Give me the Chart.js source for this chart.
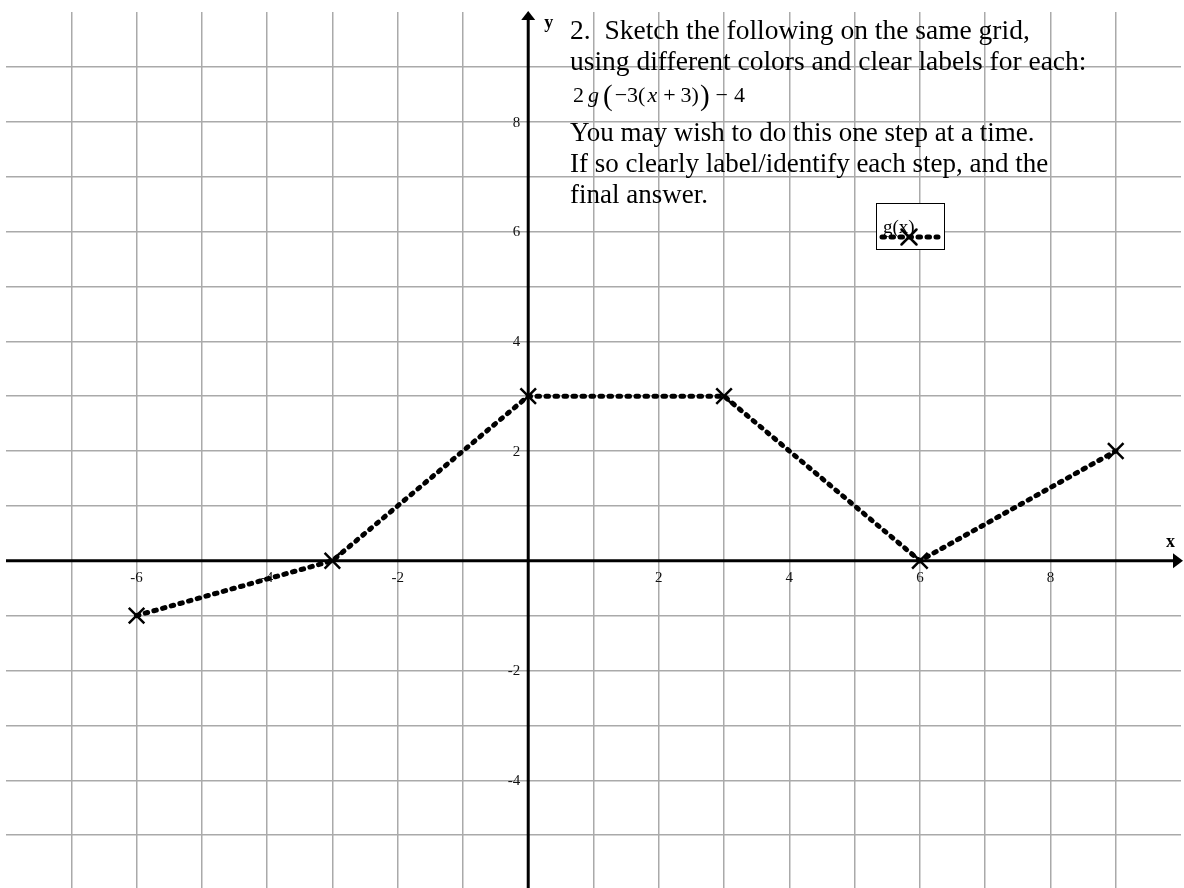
<!DOCTYPE html>
<html>
<head>
<meta charset="utf-8">
<title>g(x)</title>
<script src="https://cdn.jsdelivr.net/npm/chart.js@4.4.1/dist/chart.umd.min.js"></script>
<style>
  html, body { margin: 0; padding: 0; background: #fff; overflow: hidden; }
  #wrap { position: relative; width: 1184px; height: 892px; }
</style>
</head>
<body>
<div id="wrap"><canvas id="graph"></canvas></div>
<script>
// ---- data ----
const xValues = [-6, -3, 0, 3, 6, 9];
const gValues = [-1, 0, 3, 3, 0, 2];
const xRange = [-8, 10];
const yRange = [-6, 10];
const xTickLabels = [-6, -4, -2, 2, 4, 6, 8];
const yTickLabels = [8, 6, 4, 2, -2, -4];
const seriesName = 'g(x)';
const promptBefore = [
  '2.  Sketch the following on the same grid,',
  'using different colors and clear labels for each:'
];
// formula pieces: [text, style]  (n = upright, i = italic, b = big bracket)
const formulaPieces = [
  ['2', 'n'], ['g', 'i'], ['(', 'b'], ['\u22123(', 'n'], ['x', 'i'],
  ['+', 'n'], ['3)', 'n'], [')', 'b'], ['\u2212', 'n'], ['4', 'n']
];
const promptAfter = [
  'You may wish to do this one step at a time.',
  'If so clearly label/identify each step, and the',
  'final answer.'
];

// ---- styling ----
const SERIF = '"Liberation Serif", "Times New Roman", Times, serif';
const GRID = 'rgb(170,170,170)';
const LINE_STYLE = { width: 5, dash: [2.5, 6.5] };

function drawCross(ctx, cx, cy, half, lw) {
  ctx.save();
  ctx.strokeStyle = '#000';
  ctx.lineWidth = lw;
  ctx.beginPath();
  ctx.moveTo(cx - half, cy - half); ctx.lineTo(cx + half, cy + half);
  ctx.moveTo(cx - half, cy + half); ctx.lineTo(cx + half, cy - half);
  ctx.stroke();
  ctx.restore();
}

// axes with arrows, tick numbers and axis names, drawn under the data line
const axesPlugin = {
  id: 'axesPlugin',
  beforeDatasetsDraw(chart) {
    const { ctx, chartArea, scales: { x, y } } = chart;
    const x0 = x.getPixelForValue(0);
    const y0 = y.getPixelForValue(0);
    ctx.save();

    // tick numbers
    ctx.fillStyle = '#111';
    ctx.font = '15px ' + SERIF;
    ctx.textBaseline = 'middle';
    ctx.textAlign = 'center';
    xTickLabels.forEach(v => ctx.fillText(String(v), x.getPixelForValue(v), y0 + 17));
    ctx.textAlign = 'right';
    yTickLabels.forEach(v => ctx.fillText(String(v), x0 - 8, y.getPixelForValue(v) + 1));

    // axis lines
    ctx.strokeStyle = '#000';
    ctx.lineWidth = 3;
    ctx.beginPath();
    ctx.moveTo(chartArea.left, y0);
    ctx.lineTo(chartArea.right - 6, y0);
    ctx.moveTo(x0, chartArea.top + 6);
    ctx.lineTo(x0, chartArea.bottom);
    ctx.stroke();

    // arrow heads
    ctx.fillStyle = '#000';
    ctx.beginPath();
    ctx.moveTo(x0, chartArea.top - 1);
    ctx.lineTo(x0 - 7, chartArea.top + 8);
    ctx.lineTo(x0 + 7, chartArea.top + 8);
    ctx.closePath();
    ctx.fill();
    ctx.beginPath();
    ctx.moveTo(chartArea.right + 2, y0);
    ctx.lineTo(chartArea.right - 8, y0 - 7.5);
    ctx.lineTo(chartArea.right - 8, y0 + 7.5);
    ctx.closePath();
    ctx.fill();

    // axis names
    ctx.font = 'bold 18px ' + SERIF;
    ctx.textAlign = 'left';
    ctx.textBaseline = 'alphabetic';
    ctx.fillText('y', x0 + 16, 28);
    ctx.fillText('x', 1166, y0 - 14);
    ctx.restore();
  }
};

// exercise text and the legend box, drawn on top
const notesPlugin = {
  id: 'notesPlugin',
  afterDatasetsDraw(chart) {
    const { ctx } = chart;
    const left = 570;
    ctx.save();
    ctx.fillStyle = '#000';
    ctx.textAlign = 'left';
    ctx.textBaseline = 'alphabetic';
    ctx.font = '27.5px ' + SERIF;
    const base1 = [39, 70];
    promptBefore.forEach((t, i) => ctx.fillText(t, left, base1[i]));

    // formula 2g(-3(x+3))-4
    let fx = left + 3;
    const fy = 102;
    const gaps = { '2': 4, 'g': 4, '(': 2, '\u22123(': 2, 'x': 6, '+': 5, '3)': 1, ')': 6, '\u2212': 6, '4': 0 };
    formulaPieces.forEach(([t, s]) => {
      if (s === 'i') ctx.font = 'italic 22px ' + SERIF;
      else if (s === 'b') ctx.font = '29px ' + SERIF;
      else ctx.font = '22px ' + SERIF;
      ctx.fillText(t, fx, s === 'b' ? fy + 3 : fy);
      fx += ctx.measureText(t).width + (gaps[t] || 0);
    });

    ctx.font = '27px ' + SERIF;
    const base2 = [141, 172, 203];
    promptAfter.forEach((t, i) => ctx.fillText(t, left, base2[i]));

    // legend
    const bx = 876.5, by = 203.5, bw = 68, bh = 46;
    ctx.fillStyle = '#fff';
    ctx.fillRect(bx, by, bw, bh);
    ctx.strokeStyle = '#000';
    ctx.lineWidth = 1;
    ctx.strokeRect(bx, by, bw, bh);
    ctx.fillStyle = '#000';
    ctx.font = '19px ' + SERIF;
    ctx.fillText(seriesName, 883, 233);
    ctx.strokeStyle = '#000';
    ctx.lineWidth = LINE_STYLE.width;
    ctx.lineCap = 'round';
    ctx.setLineDash(LINE_STYLE.dash);
    ctx.beginPath();
    ctx.moveTo(882, 237);
    ctx.lineTo(938, 237);
    ctx.stroke();
    ctx.setLineDash([]);
    drawCross(ctx, 909, 237, 7.5, 2.5);
    ctx.restore();
  }
};

const gridColor = (range) => (c) =>
  (c.tick && (c.tick.value === range[0] || c.tick.value === range[1])) ? 'rgba(0,0,0,0)' : GRID;

new Chart(document.getElementById('graph'), {
  type: 'line',
  data: {
    datasets: [{
      label: seriesName,
      data: xValues.map((v, i) => ({ x: v, y: gValues[i] })),
      borderColor: '#000',
      borderWidth: LINE_STYLE.width,
      borderDash: LINE_STYLE.dash,
      borderCapStyle: 'round',
      fill: false,
      tension: 0,
      pointStyle: 'crossRot',
      pointRadius: 11,
      pointBorderWidth: 2.5,
      pointBorderColor: '#000',
      pointBackgroundColor: '#000'
    }]
  },
  options: {
    responsive: true,
    maintainAspectRatio: false,
    animation: false,
    events: [],
    layout: { padding: { left: 6, top: 12, right: 3, bottom: 2 }, autoPadding: false },
    plugins: { legend: { display: false }, tooltip: { enabled: false } },
    scales: {
      x: {
        type: 'linear',
        position: { y: 0 },
        min: xRange[0], max: xRange[1],
        ticks: { display: false, stepSize: 1, maxTicksLimit: 100 },
        grid: { color: gridColor(xRange), lineWidth: 1.5, drawTicks: false },
        border: { display: false }
      },
      y: {
        type: 'linear',
        position: { x: 0 },
        min: yRange[0], max: yRange[1],
        ticks: { display: false, stepSize: 1, maxTicksLimit: 100 },
        grid: { color: gridColor(yRange), lineWidth: 1.5, drawTicks: false },
        border: { display: false }
      }
    }
  },
  plugins: [axesPlugin, notesPlugin]
});
</script>
</body>
</html>
